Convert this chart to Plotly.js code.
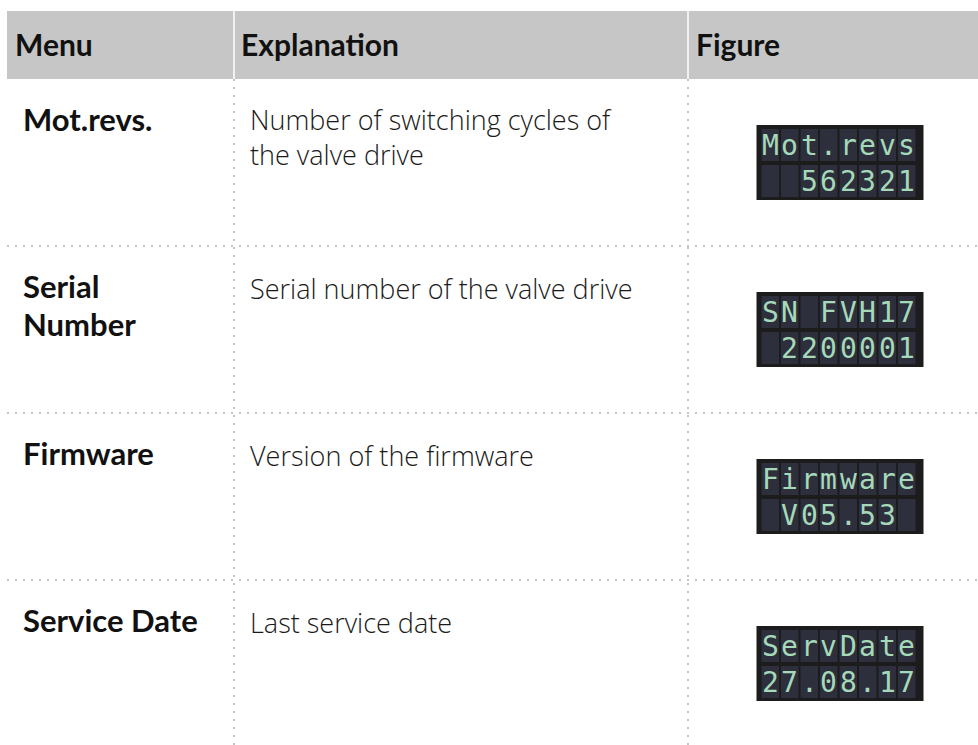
<!DOCTYPE html>
<html>
<head>
<meta charset="utf-8">
<script src="https://cdn.plot.ly/plotly-3.0.1.min.js"></script>
<style>html,body{margin:0;padding:0;background:#fff;}#chart{width:978px;height:745px;}</style>
</head>
<body>
<div id="chart"></div>
<script>
// ---- data ----
var headers = ["Menu", "Explanation", "Figure"];
var menus = [["Mot.revs."], ["Serial", "Number"], ["Firmware"], ["Service Date"]];
var explanations = [["Number of switching cycles of", "the valve drive"], ["Serial number of the valve drive"], ["Version of the firmware"], ["Last service date"]];
var lcdLine1 = ["Mot.revs", "SN FVH17", "Firmware", "ServDate"];
var lcdLine2 = ["  562321", " 2200001", " V05.53 ", "27.08.17"];

// ---- layout geometry (pixel space via axes) ----
var W = 978, H = 745;
var headTop = 11, headBot = 79, headLeft = 7;
var colX = [headLeft, 234, 688, W];
var rowH = 167;
var headPad = [6, 5, 6];
var bodyPad = [14, 14];

var shapes = [];
var annotations = [];

// header band
shapes.push({type:'rect', xref:'x', yref:'y', x0:headLeft, x1:W, y0:headTop, y1:headBot, fillcolor:'#c6c6c6', line:{width:0}, layer:'below'});
for (var c = 1; c < 3; c++) {
  shapes.push({type:'line', xref:'x', yref:'y', x0:colX[c], x1:colX[c], y0:headTop, y1:headBot, line:{color:'#ffffff', width:1.5}});
  shapes.push({type:'line', xref:'x', yref:'y', x0:colX[c], x1:colX[c], y0:headBot, y1:H, line:{color:'#c4c4c4', width:2, dash:'2px,6px'}});
}
headers.forEach(function(h, i){
  annotations.push({xref:'x', yref:'y', x:colX[i] + headPad[i], y:(headTop+headBot)/2 - 1.5, text:h, showarrow:false,
    xanchor:'left', yanchor:'middle', font:{family:'Lato, "Noto Sans", sans-serif', size:30, color:'#111111', weight:700}});
});

menus.forEach(function(m, r){
  var top = headBot + r*rowH;
  if (r > 0) {
    shapes.push({type:'line', xref:'x', yref:'y', x0:headLeft, x1:W, y0:top, y1:top, line:{color:'#c4c4c4', width:2, dash:'2px,6px'}});
  }
  m.forEach(function(line, i){
    annotations.push({xref:'x', yref:'y', x:colX[0] + bodyPad[0], y:top + 40 + i*37.5, text:line, showarrow:false, align:'left',
      xanchor:'left', yanchor:'middle', font:{family:'Lato, "Noto Sans", sans-serif', size:31, color:'#111111', weight:700}});
  });
  var ex = explanations[r];
  annotations.push({xref:'x', yref:'y', x:colX[1] + bodyPad[1], y:top + 42 + (ex.length-1)*31/2, text:ex.join('<br>'), showarrow:false, align:'left',
    xanchor:'left', yanchor:'middle', font:{family:'"Open Sans", "Noto Sans", sans-serif', size:27, color:'#1a1a1a', weight:300}});

  // LCD display
  var bw = 167, bh = 75;
  var cx = (colX[2] + W)/2 + 7, cy = top + rowH/2;
  var bx0 = cx - bw/2, by0 = cy - bh/2;
  shapes.push({type:'rect', xref:'x', yref:'y', x0:bx0, x1:bx0+bw, y0:by0, y1:by0+bh, fillcolor:'#1c1c1c', line:{width:0}});
  var lines = [lcdLine1[r], lcdLine2[r]];
  for (var li = 0; li < 2; li++) {
    var cellTop = by0 + 4 + li*36;
    for (var k = 0; k < 8; k++) {
      var cellX = bx0 + 5 + k*19.5;
      shapes.push({type:'rect', xref:'x', yref:'y', x0:cellX, x1:cellX+17.5, y0:cellTop, y1:cellTop+32, fillcolor:'#2d2f3d', line:{width:0}});
      var ch = lines[li].charAt(k);
      if (ch && ch !== ' ') {
        annotations.push({xref:'x', yref:'y', x:cellX+8.75, y:cellTop+16, text:ch, showarrow:false,
          xanchor:'center', yanchor:'middle', font:{family:'"DejaVu Sans Mono", "Liberation Mono", monospace', size:28, color:'#a6d9b9'}});
      }
    }
  }
});

var layout = {
  width: W, height: H,
  margin: {l:0, r:0, t:0, b:0},
  paper_bgcolor: '#ffffff', plot_bgcolor: '#ffffff',
  xaxis: {range:[0, W], visible:false, fixedrange:true},
  yaxis: {range:[H, 0], visible:false, fixedrange:true},
  shapes: shapes,
  annotations: annotations,
  showlegend: false
};
Plotly.newPlot('chart', [], layout, {staticPlot:true, displayModeBar:false});
</script>
</body>
</html>
